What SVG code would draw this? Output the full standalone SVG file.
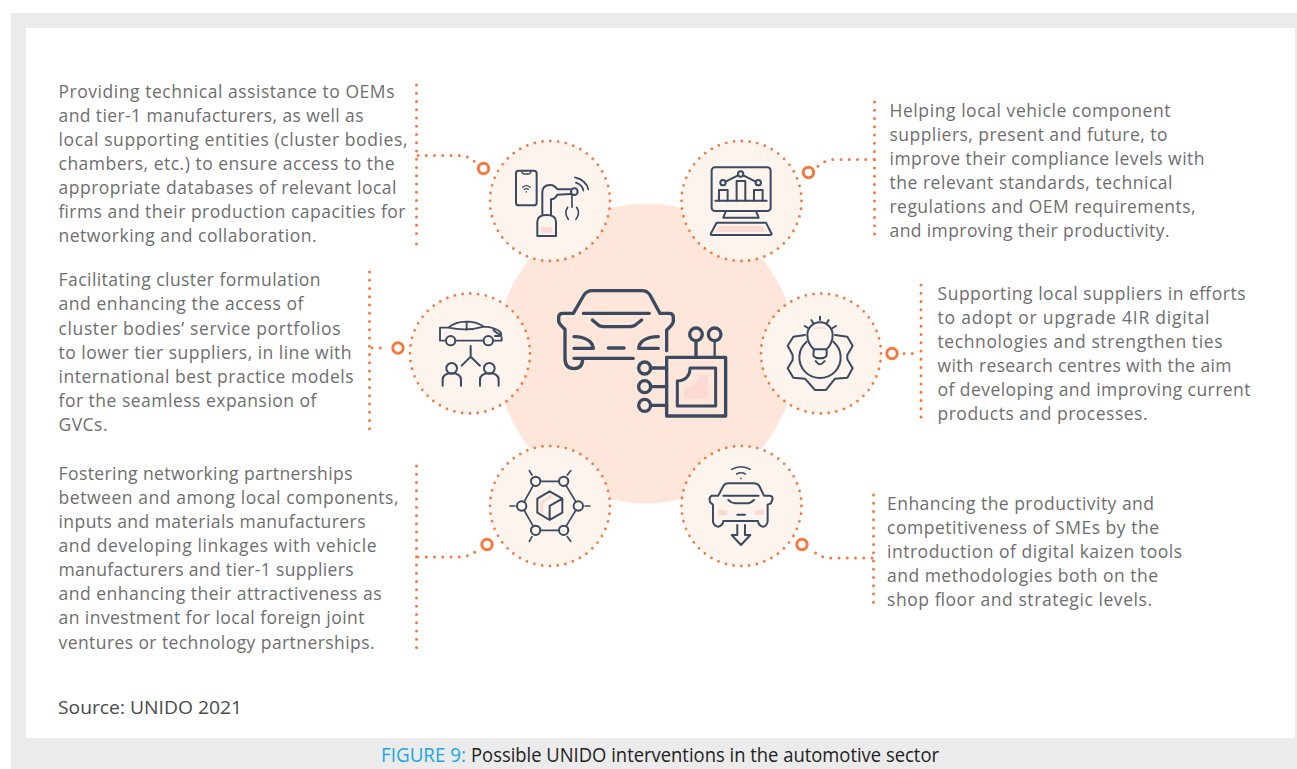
<svg xmlns="http://www.w3.org/2000/svg" width="1297" height="769" viewBox="0 0 1297 769">
<defs><style>
text{font-family:"Open Sans","Noto Sans","Liberation Sans",sans-serif}
.t{font-size:17.5px;fill:#6e6e6e}
.dot{fill:none;stroke:#f5793f;stroke-width:3;stroke-linecap:round;stroke-dasharray:0 8.25}
.ring{fill:#fff;stroke:#f5793f;stroke-width:3}
.halo{fill:#fef4ee;stroke:#f5793f;stroke-width:2.8;stroke-linecap:round;stroke-dasharray:0 7.85}
.i{fill:none;stroke:#3a4a60;stroke-linecap:round;stroke-linejoin:round;stroke-width:6}
.c{stroke-width:10}
.p{fill:#fdd9d3;stroke:none}
</style></defs>
<rect width="1297" height="769" fill="#fff"/>
<rect x="11" y="13" width="1286" height="756" fill="#ebebeb"/>
<rect x="26" y="28" width="1269" height="710" fill="#fff"/>
<g id="hub">
<circle cx="646" cy="353.500" r="150" fill="#fee6da"/>
<g class="i c" transform="translate(550,280) scale(.3333)">
<path d="M70,100L102,45Q112,32 125,32L275,32Q292,32 300,45L330,100L358,100Q370,100 370,112L370,125Q368,135 350,150L350,212M70,100L38,100Q26,100 26,112L26,125Q30,135 45,148L45,235Q45,266 72,266Q98,266 98,235L250,235M98,235L72,235M100,100L298,100M127,120L145,135Q150,140 165,140L235,140Q250,140 256,135L275,120M72,170Q125,172 130,205L72,205M325,170Q270,172 266,205L325,205M175,204L222,204"/>
<path class="p" d="M445,285L475,285L475,356L403,356L403,325Q445,320 445,285Z"/>
<rect x="350" y="232" width="177" height="176"/>
<path d="M420,264L497,264L497,378L382,378L382,303Q420,300 420,264Z" stroke-width="9"/>
<circle cx="438" cy="163" r="19"/><circle cx="494" cy="163" r="19"/><path d="M438,182V232"/><path d="M494,182V232" stroke-width="7"/>
<circle cx="284" cy="264" r="18"/><circle cx="284" cy="320" r="18"/><circle cx="284" cy="376" r="18"/>
<path d="M302,264H350M302,320H350M302,376H350"/>
</g></g>
<g id="connectors">
<path class="dot" d="M416.500,85V236M416.500,244V245"/>
<path class="dot" d="M418,155.500H461Q469,156 476,163"/>
<path class="dot" d="M874.500,102V236"/>
<path class="dot" d="M874,159.500H834Q824,160 816,168"/>
<path class="dot" d="M369.500,272V430"/>
<path class="dot" d="M372,348H386"/>
<path class="dot" d="M921,285V425"/>
<path class="dot" d="M904,353.500H920"/>
<path class="dot" d="M416.500,466V650"/>
<path class="dot" d="M418,557H462Q471,556 479,549"/>
<path class="dot" d="M873.500,495V607"/>
<path class="dot" d="M872,558H828Q819,557 811,549"/>
<circle class="ring" cx="483.500" cy="168.500" r="5.200"/>
<circle class="ring" cx="808.500" cy="172.500" r="5.200"/>
<circle class="ring" cx="398" cy="348" r="5.200"/>
<circle class="ring" cx="892" cy="353.500" r="5.200"/>
<circle class="ring" cx="487" cy="544.500" r="5.200"/>
<circle class="ring" cx="802" cy="544.500" r="5.200"/>
</g>
<g id="node-tl">
<circle class="halo" cx="550" cy="201" r="60"/>
<g class="i" transform="translate(480,130) scale(.3333)">
<rect class="p" x="182" y="292" width="36" height="18"/>
<rect x="108" y="122" width="62" height="104" rx="8"/>
<path d="M124,122Q126,132 134,132H144Q152,132 154,122M128,172Q139,162 150,172M133,178Q139,174 145,178M139,185V186" stroke-width="4"/>
<path d="M172,318V275Q172,255 200,255Q228,255 228,275V318ZM187,255V188Q187,165 210,165Q224,165 232,178L272,178M272,192L232,194Q226,208 213,208V255"/>
<circle cx="283" cy="185" r="10"/>
<path d="M276,196V232M263,232Q251,250 265,268M290,232Q302,250 288,268M288,158Q308,165 310,182M285,142Q318,150 325,178" stroke-width="5"/>
</g></g>
<g id="node-tr">
<circle class="halo" cx="741.500" cy="201" r="60"/>
<g class="i" transform="translate(480,130) scale(.3333)">
<path class="p" d="M718,288L848,288L860,305L708,305Z"/>
<rect x="695" y="112" width="177" height="131" rx="10"/>
<path d="M738,243L730,263H836L828,243M710,278H858L875,312Q875,315 870,315H697Q690,315 693,310ZM706,212H860M737,155L774,136M790,136L827,155"/>
<path d="M717,212V180H743V212M770,212V153H796V212M822,212V180H848V212"/>
<circle cx="729" cy="158" r="8"/><circle cx="782" cy="132" r="8"/><circle cx="835" cy="158" r="8"/>
</g></g>
<g id="node-ml">
<circle class="halo" cx="470" cy="353.500" r="60"/>
<g class="i" transform="translate(380,280) scale(.3333)">
<path d="M197,182H180V143H205Q225,125 260,125Q290,125 312,140Q345,142 360,155Q366,162 362,168H345M340,182H365V172M228,182H310M205,143Q260,155 312,140M260,125V150M340,150Q350,160 362,165" stroke-width="5.500"/>
<circle cx="212" cy="182" r="14"/><circle cx="325" cy="182" r="14"/>
<path d="M272,198V230M245,257L272,230L300,257M188,317V300Q188,280 215,280Q243,280 243,300V317M300,317V300Q300,280 328,280Q356,280 356,300V317"/>
<circle cx="215" cy="265" r="16"/><circle cx="328" cy="265" r="16"/>
</g></g>
<g id="node-mr">
<circle class="halo" cx="821" cy="353.500" r="60"/>
<g class="i" transform="translate(750,280) scale(.3333)">
<path class="p" d="M185,150Q210,130 235,150Q210,142 185,150Z"/>
<path d="M165,165L130,170L113,197L128,225V240L113,265L130,293L165,296L195,330H228L255,296L292,293L308,265L292,238V225L308,197L292,170L255,165M170,185A62,62 0 1 0 250,185"/>
<path d="M192,208Q172,190 172,165A38,38 0 1 1 248,165Q248,190 230,208V225Q228,235 210,235Q192,235 190,225ZM197,243Q210,262 224,243M210,110V120M184,120L190,130M236,120L230,130M164,138L174,144M258,138L248,144M190,208H230"/>
</g></g>
<g id="node-bl">
<circle class="halo" cx="550" cy="506" r="60"/>
<g class="i" transform="translate(480,370) scale(.3333)">
<path class="p" d="M180,395L212,375L220,380L190,400V430L180,425Z"/>
<path d="M209,364L247,386V428L209,450L172,428V386ZM247,386L209,408V445"/>
<path d="M181,334H237M258,346L288,396M288,420L258,469M237,481H181M160,469L132,420M132,396L160,346M90,408H105M315,408H330M148,302L156,315M272,302L262,315M148,514L156,500M272,514L262,500" stroke-width="5"/>
<circle cx="167" cy="334" r="14"/><circle cx="251" cy="334" r="14"/><circle cx="295" cy="408" r="14"/><circle cx="251" cy="481" r="14"/><circle cx="167" cy="481" r="14"/><circle cx="125" cy="408" r="14"/>
</g></g>
<g id="node-br">
<circle class="halo" cx="741.500" cy="506" r="60"/>
<g class="i" transform="translate(480,370) scale(.3333)">
<path class="p" d="M715,418L742,422V435H715ZM852,418L825,422V435H852Z"/>
<path d="M755,298Q783,282 811,298M770,312Q783,304 796,312M783,325V326" stroke-width="4.500"/>
<path d="M715,377L730,348Q735,340 745,340H820Q832,340 838,348L852,377H870Q878,378 878,386L873,400L863,404V455Q860,470 848,470Q836,468 834,453H730Q728,468 715,470Q702,468 699,455V404L690,396Q686,382 695,377ZM730,377H836M745,390Q755,400 765,400H800Q812,400 822,390M772,434H795M772,465V495H755L783,525L811,495H795V465"/>
</g></g>
<g id="text-left">
<g class="t">
<text x="58.500" y="97.600" textLength="336">Providing technical assistance to OEMs</text>
<text x="58.500" y="121.700" textLength="305">and tier-1 manufacturers, as well as</text>
<text x="58.500" y="145.800" textLength="349">local supporting entities (cluster bodies,</text>
<text x="58.500" y="169.900" textLength="336">chambers, etc.) to ensure access to the</text>
<text x="58.500" y="194" textLength="338">appropriate databases of relevant local</text>
<text x="58.500" y="218" textLength="347">firms and their production capacities for</text>
<text x="58.500" y="242" textLength="258">networking and collaboration.</text>
<text x="58.500" y="286" textLength="262">Facilitating cluster formulation</text>
<text x="58.500" y="310" textLength="245">and enhancing the access of</text>
<text x="58.500" y="335" textLength="282">cluster bodies’ service portfolios</text>
<text x="58.500" y="359" textLength="293">to lower tier suppliers, in line with</text>
<text x="58.500" y="383" textLength="295">international best practice models</text>
<text x="58.500" y="407" textLength="258">for the seamless expansion of</text>
<text x="58.500" y="431" textLength="49">GVCs.</text>
<text x="58.500" y="480" textLength="294">Fostering networking partnerships</text>
<text x="58.500" y="504" textLength="340">between and among local components,</text>
<text x="58.500" y="528" textLength="307">inputs and materials manufacturers</text>
<text x="58.500" y="552" textLength="318">and developing linkages with vehicle</text>
<text x="58.500" y="576" textLength="295">manufacturers and tier-1 suppliers</text>
<text x="58.500" y="600" textLength="323">and enhancing their attractiveness as</text>
<text x="58.500" y="624" textLength="306">an investment for local foreign joint</text>
<text x="58.500" y="648.500" textLength="316">ventures or technology partnerships.</text>
</g></g>
<g id="text-right">
<g class="t">
<text x="889.500" y="117" textLength="281">Helping local vehicle component</text>
<text x="889.500" y="141" textLength="278">suppliers, present and future, to</text>
<text x="889.500" y="165" textLength="315">improve their compliance levels with</text>
<text x="889.500" y="189" textLength="283">the relevant standards, technical</text>
<text x="889.500" y="213" textLength="306">regulations and OEM requirements,</text>
<text x="889.500" y="237" textLength="280">and improving their productivity.</text>
<text x="937.500" y="299.500" textLength="308">Supporting local suppliers in efforts</text>
<text x="937.500" y="323.500" textLength="272">to adopt or upgrade 4IR digital</text>
<text x="937.500" y="347.500" textLength="285">technologies and strengthen ties</text>
<text x="937.500" y="372" textLength="294">with research centres with the aim</text>
<text x="937.500" y="396" textLength="313">of developing and improving current</text>
<text x="937.500" y="420" textLength="210">products and processes.</text>
<text x="887" y="510" textLength="267">Enhancing the productivity and</text>
<text x="887" y="534" textLength="272">competitiveness of SMEs by the</text>
<text x="887" y="558" textLength="295">introduction of digital kaizen tools</text>
<text x="887" y="582" textLength="271">and methodologies both on the</text>
<text x="887" y="606" textLength="265">shop floor and strategic levels.</text>
</g></g>
<text id="source" x="58" y="714" textLength="184" lengthAdjust="spacingAndGlyphs" style="font-size:18.500px;fill:#4a4a4a">Source: UNIDO 2021</text>
<g id="caption" style="font-size:20px">
<text x="381" y="762" textLength="85" lengthAdjust="spacingAndGlyphs" style="fill:#1ca6df">FIGURE 9:</text>
<text x="471" y="762" textLength="468" lengthAdjust="spacingAndGlyphs" style="fill:#222">Possible UNIDO interventions in the automotive sector</text>
</g>
</svg>
